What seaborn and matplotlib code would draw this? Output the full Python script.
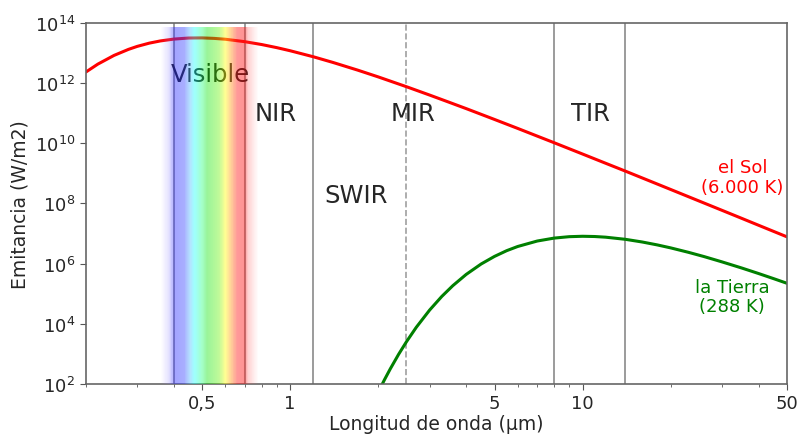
import numpy as np
import pandas as pd
import matplotlib
matplotlib.use("Agg")
import matplotlib.pyplot as plt
import seaborn as sns
from matplotlib.colors import LinearSegmentedColormap, Normalize
from matplotlib.ticker import NullFormatter, NullLocator

# Sun curve (6.000 K)
sol_wl = [0.2, 0.22, 0.25, 0.28, 0.3, 0.33, 0.36, 0.4, 0.45, 0.5, 0.55, 0.6, 0.7, 0.8, 0.9,
          1.0, 1.2, 1.4, 1.7, 2.0, 2.5, 3, 3.5, 4, 5, 6, 7, 8, 10, 12, 14, 17, 20, 25, 30,
          35, 40, 50]
sol_em = [2.31e12, 4.27e12, 8.33e12, 1.32e13, 1.66e13, 2.13e13, 2.52e13, 2.90e13, 3.15e13,
          3.18e13, 3.06e13, 2.87e13, 2.38e13, 1.91e13, 1.51e13, 1.19e13, 7.51e12, 4.87e12,
          2.71e12, 1.61e12, 7.58e11, 4.00e11, 2.30e11, 1.42e11, 6.19e10, 3.12e10, 1.73e10,
          1.04e10, 4.39e9, 2.16e9, 1.19e9, 5.54e8, 2.92e8, 1.21e8, 5.89e7, 3.20e7, 1.88e7,
          7.76e6]

# Earth curve (288 K)
tierra_wl = [2.0, 2.1, 2.2, 2.35, 2.5, 2.7, 3.0, 3.3, 3.6, 4.0, 4.5, 5, 5.5, 6, 7, 8, 9, 10,
             11, 12, 14, 16, 18, 20, 23, 26, 30, 35, 40, 45, 50]
tierra_em = [52.7, 1.36e2, 3.17e2, 9.71e2, 2.55e3, 7.64e3, 2.87e4, 8.10e4, 1.85e5, 4.38e5,
             9.73e5, 1.74e6, 2.69e6, 3.71e6, 5.64e6, 7.06e6, 7.86e6, 8.11e6, 7.96e6, 7.56e6,
             6.43e6, 5.23e6, 4.19e6, 3.34e6, 2.38e6, 1.72e6, 1.14e6, 7.16e5, 4.68e5, 3.17e5,
             2.22e5]

# band limits (µm)
limites = [0.4, 0.7, 1.2, 8, 14]
limite_mir = 2.5

# visible spectrum colours by wavelength
espectro_wl = [0.36, 0.385, 0.40, 0.435, 0.455, 0.47, 0.50, 0.52, 0.57, 0.60, 0.63, 0.66,
               0.70, 0.72, 0.78]
espectro_col = [(0.6, 0.5, 1, 0), (0.5, 0.45, 1, 0.22), (0.2, 0.2, 1, 0.45),
                (0.25, 0.3, 1, 0.45), (0.3, 0.75, 1, 0.42), (0.1, 1, 1, 0.42),
                (0.15, 1, 0.5, 0.42), (0.05, 0.9, 0.05, 0.42), (0.4, 0.95, 0.05, 0.42),
                (1, 1, 0.1, 0.47), (1, 0.6, 0.15, 0.47), (1, 0.15, 0.15, 0.47),
                (1, 0.1, 0.1, 0.47), (1, 0.3, 0.3, 0.25), (1, 0.4, 0.4, 0)]

xticks = [0.5, 1, 5, 10, 50]
xticklabels = ["0,5", "1", "5", "10", "50"]
yticks = [1e2, 1e4, 1e6, 1e8, 1e10, 1e12, 1e14]

sns.set_style("ticks")
plt.rcParams["font.family"] = ["DejaVu Sans"]

fig = plt.figure(figsize=(8.01, 4.35), dpi=100)
ax = fig.add_axes([0.107, 0.115, 0.8755, 0.83])
ax.set_xscale("log")
ax.set_yscale("log")

df_sol = pd.DataFrame({"wl": sol_wl, "em": sol_em})
df_tierra = pd.DataFrame({"wl": tierra_wl, "em": tierra_em})
sns.lineplot(data=df_sol, x="wl", y="em", color="red", lw=2.2, ax=ax, zorder=2)
sns.lineplot(data=df_tierra, x="wl", y="em", color="green", lw=2.2, ax=ax, zorder=2)

for x in limites:
    ax.axvline(x, color="#8a8a8a", lw=1.2, zorder=1)
ax.axvline(limite_mir, color="#a0a0a0", lw=1.2, ls="--", zorder=1)

# visible band gradient (on top, semi-transparent)
lo, hi = espectro_wl[0], espectro_wl[-1]
cmap = LinearSegmentedColormap.from_list(
    "vis", [((w - lo) / (hi - lo), c) for w, c in zip(espectro_wl, espectro_col)])
xe = np.geomspace(lo, hi, 240)
xc = np.sqrt(xe[:-1] * xe[1:])
ax.pcolormesh(xe, [1e2, 7.5e13], xc[None, :], cmap=cmap,
              norm=Normalize(lo, hi), shading="flat", zorder=3, edgecolors="none")

ax.text(0.532, 2.0e12, "Visible", fontsize=17.5, ha="center", va="center", color="#111111", zorder=2.5)
ax.text(0.889, 1.0e11, "NIR", fontsize=17.5, ha="center", va="center")
ax.text(2.64, 1.0e11, "MIR", fontsize=17.5, ha="center", va="center")
ax.text(10.6, 1.0e11, "TIR", fontsize=17.5, ha="center", va="center")
ax.text(1.68, 1.9e8, "SWIR", fontsize=17.5, ha="center", va="center")
ax.text(35.2, 7.6e8, "el Sol\n(6.000 K)", fontsize=13, ha="center", va="center",
        color="red", linespacing=1.1)
ax.text(32.4, 8.1e4, "la Tierra\n(288 K)", fontsize=13, ha="center", va="center",
        color="green", linespacing=1.1)

ax.set_xlim(0.2, 50)
ax.set_ylim(1e2, 1e14)
ax.set_xticks(xticks)
ax.set_xticklabels(xticklabels)
ax.xaxis.set_minor_formatter(NullFormatter())
ax.set_yticks(yticks)
ax.yaxis.set_minor_locator(NullLocator())
ax.tick_params(labelsize=13, color="#555555", length=4)
ax.tick_params(which="minor", color="#555555", length=2.5)
for s in ax.spines.values():
    s.set_color("#666666")
    s.set_linewidth(1.2)

ax.set_xlabel("Longitud de onda (µm)", fontsize=13.5, labelpad=1)
ax.set_ylabel("Emitancia (W/m2)", fontsize=13.5)

fig.savefig("out.png", dpi=100)
